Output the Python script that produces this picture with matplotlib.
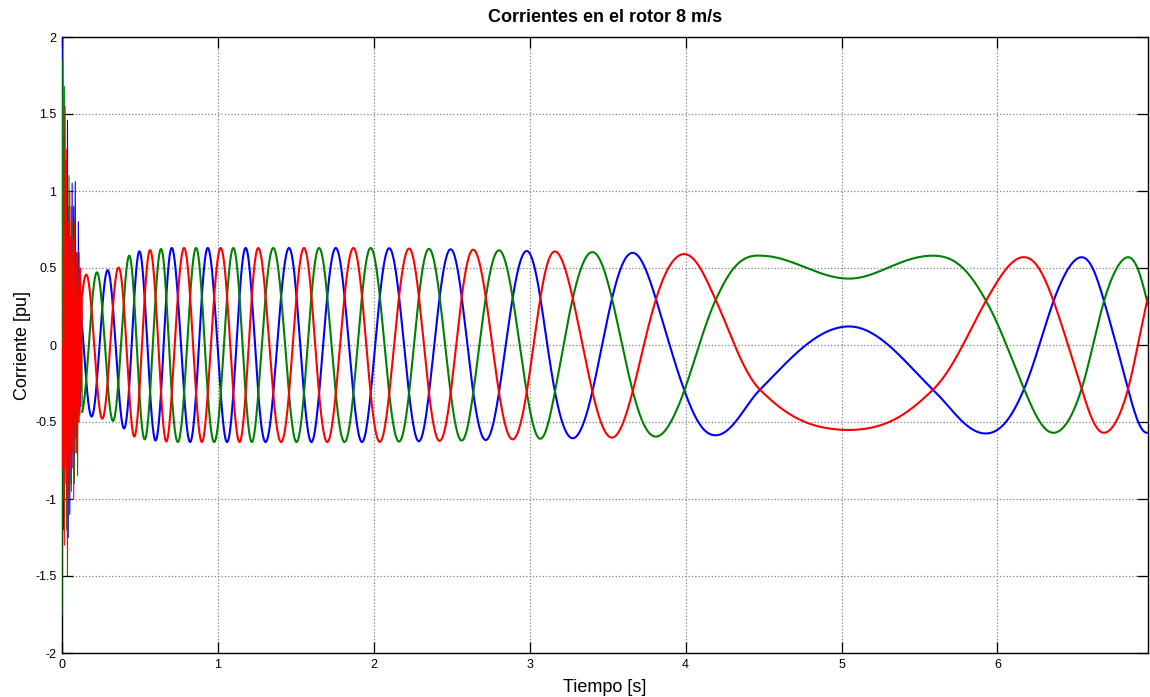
import matplotlib
matplotlib.use("Agg")
import matplotlib.pyplot as plt
import numpy as np

plt.rcParams["font.family"] = ["Liberation Sans", "DejaVu Sans"]
plt.rcParams["axes.unicode_minus"] = False

# start-up transient: alternating extremes of each phase current, every 5 ms
transient_t = np.arange(26) * 0.005
transient_a = [0.0, 2.0, -1.2, 0.9, -0.6, 1.2, -1.0, 1.46, -1.25, 0.9, -1.1, 0.7, -0.9,
               1.05, -0.8, 0.9, -0.6, 1.06, -0.7, 0.6, -0.5, 0.8, -0.45, 0.5, -0.4, 0.3]
transient_b = [-1.75, 1.85, -1.0, 1.68, -0.8, 0.9, -1.2, 0.7, -0.6, 1.1, -0.9, 0.6, -0.95,
               0.8, -0.5, 0.7, -0.9, 0.5, -0.6, 0.6, -0.85, 0.4, -0.5, 0.45, -0.3, 0.35]
transient_c = [0.0, -0.8, 1.2, -1.3, 1.55, -0.9, 1.27, -1.5, 0.8, -1.0, 1.0, -0.8, 0.9,
               -0.7, 0.7, -1.0, 0.8, -0.6, 0.6, -0.7, 0.55, -0.5, 0.6, -0.45, 0.5, -0.3]

# electrical angle of phase c (deg) at the times of successive peaks / troughs
angle_t = [0.115, 0.361, 0.430, 0.496, 0.565, 0.635, 0.704, 0.783, 0.860, 0.935,
           1.018, 1.099, 1.178, 1.259, 1.355, 1.456, 1.552, 1.649, 1.756, 1.869,
           1.980, 2.099, 2.226, 2.354, 2.493, 2.638, 2.803, 2.981, 3.162, 3.402,
           3.661, 3.810, 3.992, 4.193, 4.477, 5.048, 5.587, 5.927, 6.171, 6.360,
           6.540, 6.684, 6.838, 6.960]
angle_deg = [-4030, -3600, -3480, -3360, -3240, -3120, -3000, -2880, -2760, -2640,
             -2520, -2400, -2280, -2160, -2040, -1920, -1800, -1680, -1560, -1440,
             -1320, -1200, -1080, -960, -840, -720, -600, -480, -360, -240,
             -120, -60, 0, 60, 120, 162, 120, 60, 0, -60,
             -120, -180, -240, -300]

# amplitude of the rotor current envelope
amp_t = [0.12, 0.36, 0.43, 0.50, 0.70, 2.0, 2.6, 3.0, 3.6, 4.0, 4.5, 5.6, 6.2, 7.0]
amp_pu = [0.45, 0.50, 0.58, 0.61, 0.63, 0.63, 0.62, 0.61, 0.60, 0.59, 0.58, 0.58, 0.57, 0.57]

t_end = 6.966


def pchip(xk, yk, x):
    xk = np.asarray(xk, float)
    yk = np.asarray(yk, float)
    h = np.diff(xk)
    d = np.diff(yk) / h
    m = np.zeros_like(yk)
    m[0], m[-1] = d[0], d[-1]
    for k in range(1, len(xk) - 1):
        if d[k - 1] * d[k] > 0:
            w1 = 2 * h[k] + h[k - 1]
            w2 = h[k] + 2 * h[k - 1]
            m[k] = (w1 + w2) / (w1 / d[k - 1] + w2 / d[k])
    idx = np.clip(np.searchsorted(xk, x) - 1, 0, len(h) - 1)
    s = (x - xk[idx]) / h[idx]
    h00 = 2 * s**3 - 3 * s**2 + 1
    h10 = s**3 - 2 * s**2 + s
    h01 = -2 * s**3 + 3 * s**2
    h11 = s**3 - s**2
    return (h00 * yk[idx] + h10 * h[idx] * m[idx]
            + h01 * yk[idx + 1] + h11 * h[idx] * m[idx + 1])


t = np.linspace(0.13, t_end, 8000)
theta = np.deg2rad(pchip(angle_t, angle_deg, t))
amp = np.interp(t, amp_t, amp_pu)

phases = {
    "a": (transient_a, 240.0, (0, 0, 1)),
    "b": (transient_b, 120.0, (0, 0.5, 0)),
    "c": (transient_c, 0.0, (1, 0, 0)),
}

fig = plt.figure(figsize=(11.5, 6.97), dpi=100)
ax = fig.add_axes([62 / 1150, 1 - 653 / 697, (1148 - 62) / 1150, (653 - 37) / 697])

for name, (trans, shift, color) in phases.items():
    current = amp * np.cos(theta - np.deg2rad(shift))
    ax.plot(np.append(transient_t, t[0]), np.append(trans, current[0]),
            color=color, lw=0.8, zorder=3)
    ax.plot(t, current, color=color, lw=1.5, zorder=3)

ax.set_xlim(0, t_end)
ax.set_ylim(-2, 2)
ax.set_xticks(range(0, 7))
ax.set_yticks(np.arange(-2, 2.01, 0.5))
ax.set_yticklabels(["-2", "-1.5", "-1", "-0.5", "0", "0.5", "1", "1.5", "2"])
ax.grid(True, color="0.5", linestyle=":", lw=0.9)
ax.tick_params(direction="in", length=8, width=0.9, top=True, right=True,
               labelsize=9, pad=4)
for spine in ax.spines.values():
    spine.set_linewidth(1.0)

ax.set_title("Corrientes en el rotor 8 m/s", fontsize=13, fontweight="bold", pad=11)
ax.set_xlabel("Tiempo [s]", fontsize=13, labelpad=6)
ax.set_ylabel("Corriente [pu]", fontsize=13, labelpad=3)

fig.savefig("out.png", dpi=100, facecolor="white")
